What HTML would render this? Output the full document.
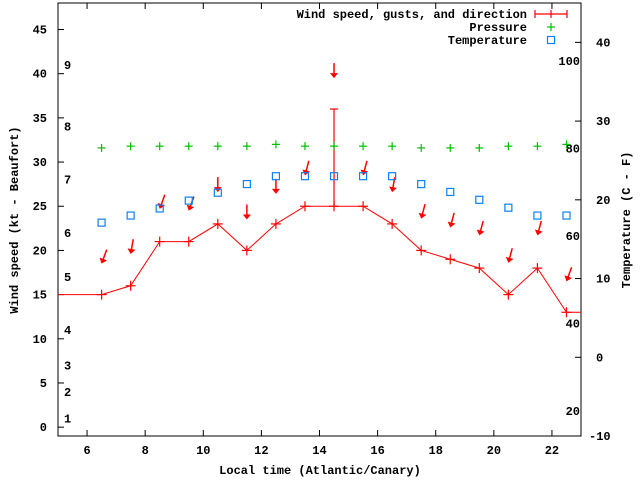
<!DOCTYPE html>
<html><head><meta charset="utf-8"><style>
body{margin:0;background:#fff}
svg text{font-family:"Liberation Mono",monospace;font-weight:bold;font-size:12px;fill:#000}
</style></head><body>
<svg id="chart" width="640" height="480" xmlns="http://www.w3.org/2000/svg"></svg>
<script>
const hours=[6.5,7.5,8.5,9.5,10.5,11.5,12.5,13.5,14.5,15.5,16.5,17.5,18.5,19.5,20.5,21.5,22.5];
const windSpeed=[15,16,21,21,23,20,23,25,25,25,23,20,19,18,15,18,13];
const windGust=[15,16,21,21,23,20,23,25,36,25,23,20,19,18,15,18,13];
const pressure=[31.6,31.8,31.8,31.8,31.8,31.8,32.0,31.8,31.8,31.8,31.8,31.6,31.6,31.6,31.8,31.8,32.0];
const temperature=[17.1,18,18.9,19.9,20.9,22,23,23,23,23,23,22,21,20,19,18,18];
const arrowY=[18.5,19.6,24.7,24.5,26.6,23.5,26.4,28.5,39.5,28.5,26.6,23.6,22.6,21.7,18.6,21.7,16.5];
const arrowAngle=[20,10,20,20,0,0,0,15,0,15,10,15,15,15,15,15,20];
const xTicks=[6,8,10,12,14,16,18,20,22];
const yTicks=[0,5,10,15,20,25,30,35,40,45];
const y2Ticks=[40,30,20,10,0,-10];
const beaufort=[[1,1],[2,4],[3,7],[4,11],[5,17],[6,22],[7,28],[8,34],[9,41]];
const fahrenheit=[100,80,60,40,20];

const L=58,R=581,T=3,B=436;
const X=v=>L+(v-5)/(23-5)*(R-L);
const Y=v=>B-(v+1)/(48+1)*(B-T);
const Y2=c=>B-(c+10)/(45+10)*(B-T);
const svg=document.getElementById('chart');
const NS='http://www.w3.org/2000/svg';
function mk(tag,attrs,parent){const e=document.createElementNS(NS,tag);for(const k in attrs)e.setAttribute(k,attrs[k]);(parent||svg).appendChild(e);return e;}
function txt(s,x,y,anchor){const t=mk('text',{x:x,y:y,'text-anchor':anchor||'start'});t.textContent=s;return t;}

const frame=mk('rect',{x:L,y:T,width:R-L,height:B-T,fill:'none',stroke:'#000','stroke-width':1});


xTicks.forEach(v=>{
  mk('line',{x1:X(v),x2:X(v),y1:B,y2:B-6,stroke:'#000'});
  mk('line',{x1:X(v),x2:X(v),y1:T,y2:T+6,stroke:'#000'});
  const t=txt(String(v),X(v),454,'middle');
  
  
});
yTicks.forEach(v=>{
  mk('line',{x1:L,x2:L+6,y1:Y(v),y2:Y(v),stroke:'#000'});
  const t=txt(String(v),47,Y(v)+4,'end');
  
  
});
y2Ticks.forEach(v=>{
  mk('line',{x1:R,x2:R-6,y1:Y2(v),y2:Y2(v),stroke:'#000'});
  const t=txt(String(v),v<0?589:596,Y2(v)+4,'start');
  
  
});
beaufort.forEach(b=>{
  const t=txt(String(b[0]),64,Y(b[1])+4,'start');
  
  
});
fahrenheit.forEach(f=>{
  const t=txt(String(f),580,Y2((f-32)*5/9)+5,'end');
  
  
});
let t=txt('Local time (Atlantic/Canary)',320,474,'middle');


t=txt('Wind speed (kt - Beaufort)',0,0,'middle');t.setAttribute('transform','translate(18,220) rotate(-90)');


t=txt('Temperature (C - F)',0,0,'middle');t.setAttribute('transform','translate(630,220) rotate(-90)');



let pts=[[L,Y(windSpeed[0])]];
hours.forEach((h,i)=>pts.push([X(h),Y(windSpeed[i])]));
pts.push([R,Y(windSpeed[windSpeed.length-1])]);
const wl=mk('polyline',{points:pts.map(p=>p.join(',')).join(' '),fill:'none',stroke:'#f00','stroke-width':1});


hours.forEach((h,i)=>{
  const g=mk('g',{stroke:'#f00','stroke-width':1.2});
  
  
  const x=X(h),y=Y(windSpeed[i]);
  mk('line',{x1:x-5,x2:x+5,y1:y,y2:y},g);mk('line',{x1:x,x2:x,y1:y-5,y2:y+5},g);
  if(windGust[i]>windSpeed[i]){
    const gy=Y(windGust[i]);
    mk('line',{x1:x,x2:x,y1:y,y2:gy},g);mk('line',{x1:x-4,x2:x+4,y1:gy,y2:gy},g);
  }
});
hours.forEach((h,i)=>{
  const x=X(h),y=Y(arrowY[i]);
  const g=mk('g',{transform:`translate(${x},${y}) rotate(${arrowAngle[i]})`});
  
  
  mk('line',{x1:0,y1:-15,x2:0,y2:-3,stroke:'#f00','stroke-width':1.5},g);
  mk('polygon',{points:'-4,-5 4,-5 0,0',fill:'#f00'},g);
});
hours.forEach((h,i)=>{
  const g=mk('g',{stroke:'#00c000','stroke-width':1.2});
  
  
  const x=X(h),y=Y(pressure[i]);
  mk('line',{x1:x-4,x2:x+4,y1:y,y2:y},g);mk('line',{x1:x,x2:x,y1:y-4,y2:y+4},g);
});
hours.forEach((h,i)=>{
  const r=mk('rect',{x:X(h)-3.5,y:Y2(temperature[i])-3.5,width:7,height:7,fill:'none',stroke:'#1080f0','stroke-width':1.2});
  
  
});
const lg=mk('g',{});


[['Wind speed, gusts, and direction',18],['Pressure',31],['Temperature',44]].forEach(a=>{const e=txt(a[0],527,a[1],'end');lg.appendChild(e);});
const le=mk('g',{stroke:'#f00','stroke-width':1.2},lg);
mk('line',{x1:535,x2:567,y1:14,y2:14},le);mk('line',{x1:535,x2:535,y1:10,y2:18},le);mk('line',{x1:567,x2:567,y1:10,y2:18},le);mk('line',{x1:551,x2:551,y1:10,y2:18},le);
const lp=mk('g',{stroke:'#00c000','stroke-width':1.2},lg);
mk('line',{x1:547,x2:555,y1:27,y2:27},lp);mk('line',{x1:551,x2:551,y1:23,y2:31},lp);
mk('rect',{x:547.5,y:36.5,width:7,height:7,fill:'none',stroke:'#1080f0','stroke-width':1.2},lg);
</script>
</body></html>
